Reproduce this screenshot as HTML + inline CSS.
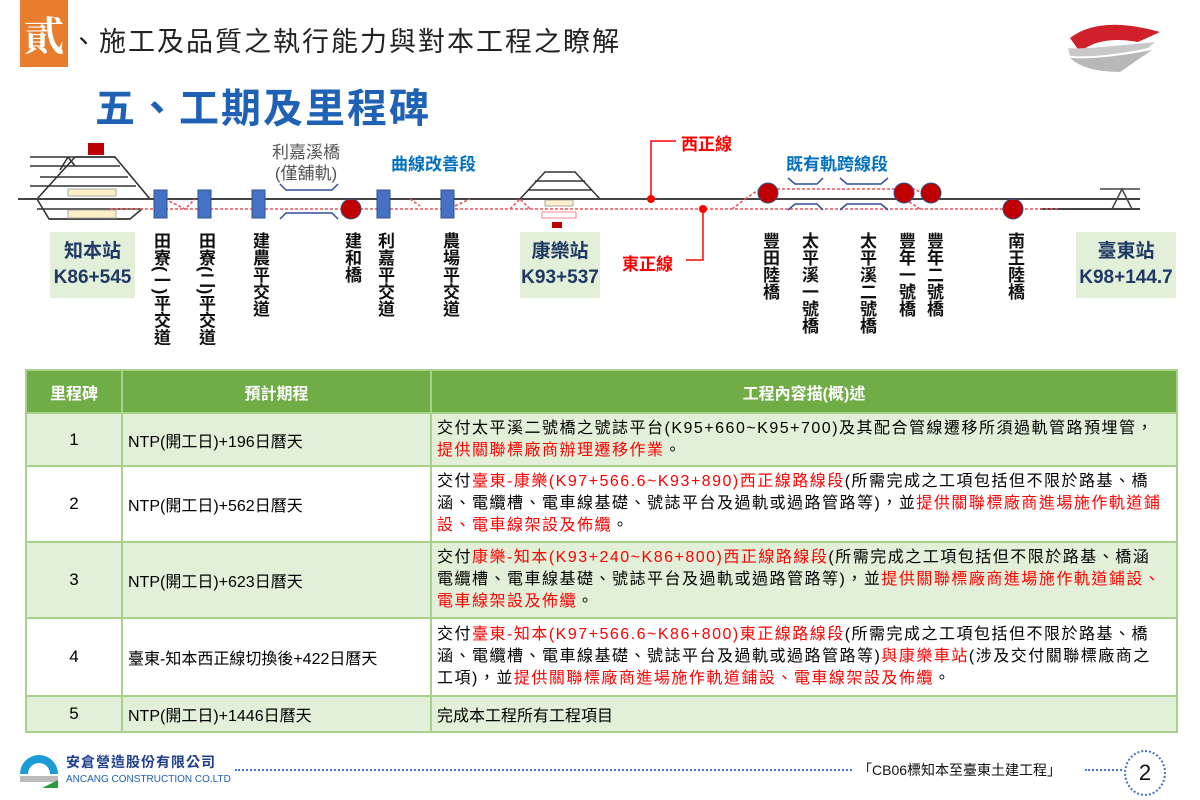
<!DOCTYPE html>
<html><head><meta charset="utf-8">
<style>
body{margin:0;width:1200px;height:800px;background:#fff;position:relative;overflow:hidden;font-family:"Liberation Sans","Noto Sans CJK TC",sans-serif;}
.abs{position:absolute;}
.vt{position:absolute;writing-mode:vertical-rl;font-size:17px;font-weight:bold;color:#111;line-height:17px;letter-spacing:0;}
.st{position:absolute;background:#e2efd9;color:#1f3864;font-weight:bold;text-align:center;font-size:19px;line-height:26px;padding-top:7px;}
table{position:absolute;left:25px;top:369px;width:1153px;border-collapse:collapse;font-size:16px;}
td,th{border:2px solid #a9d18e;padding:0 5px;}
th{background:#70ad47;color:#fff;font-weight:bold;height:41px;font-size:16px;}
.g td{background:#e2efd9;}
.w td{background:#fff;}
td.c{text-align:center;font-size:17px;}
td.d{letter-spacing:1.5px;}
.r{color:#ff0000;}
td div{white-space:nowrap;line-height:22px;}
</style></head><body>
<!-- header -->
<div class="abs" style="left:20px;top:0;width:48px;height:67px;background:#e87d2e;color:#fff;font-size:40px;font-family:'Noto Serif CJK SC',serif;line-height:67px;text-align:center;font-weight:bold;">貳</div>
<div class="abs" style="left:70px;top:20px;font-size:27px;color:#222;letter-spacing:2px;">、施工及品質之執行能力與對本工程之瞭解</div>
<div class="abs" style="left:95px;top:76px;font-size:40px;color:#1f62b5;font-weight:bold;letter-spacing:2px;">五、工期及里程碑</div>
<svg class="abs" style="left:1060px;top:10px" width="120" height="70">
<path d="M10 28 Q40 5 100 22 L78 32 Q40 25 20 42 Z" fill="#d0202a"/>
<path d="M8 38 Q20 40 95 32 L88 38 Q40 48 10 46 Z" fill="#c8c8c8"/>
<path d="M10 48 Q40 50 92 40 L60 62 Q25 62 10 48 Z" fill="#b8b8b8"/>
</svg>

<!-- diagram -->
<svg class="abs" style="left:0;top:0" width="1200" height="370">
<g stroke="#333" stroke-width="1.6" fill="none">
<line x1="30" y1="157" x2="115" y2="157"/><line x1="30" y1="166" x2="120" y2="166"/>
<line x1="40" y1="177" x2="128" y2="177"/><line x1="30" y1="186" x2="136" y2="186"/>
<line x1="37" y1="209" x2="142" y2="209"/><line x1="49" y1="219" x2="130" y2="219"/>
<polyline points="37,199 75,157 115,157 150,199"/>
<polyline points="37,199 49,219 130,219 142,209"/>
<line x1="68" y1="157" x2="60" y2="170"/><line x1="68" y1="157" x2="75" y2="166"/>
</g>
<rect x="68" y="189" width="48" height="7" fill="#fbefc8" stroke="#aaa"/>
<rect x="68" y="210" width="48" height="8" fill="#fbefc8" stroke="#aaa"/>
<rect x="88" y="143" width="16" height="12" fill="#c00000"/>
<g stroke="#333" stroke-width="1.5" fill="none">
<polyline points="520,199 545,172 575,172 600,199"/>
<line x1="535" y1="181" x2="585" y2="181"/>
<line x1="528" y1="190" x2="592" y2="190"/>
</g>
<rect x="545" y="200" width="28" height="6" fill="#fbefc8" stroke="#aaa"/>
<rect x="542" y="212" width="34" height="6" fill="none" stroke="#e88"/>
<rect x="552" y="222" width="10" height="6" fill="#c00000"/>
<line x1="18" y1="199" x2="1140" y2="199" stroke="#444" stroke-width="2"/>
<line x1="1040" y1="209" x2="1140" y2="209" stroke="#444" stroke-width="2"/>
<line x1="1100" y1="189" x2="1140" y2="189" stroke="#444" stroke-width="1.5"/>
<polyline points="1112,209 1122,189 1132,209" stroke="#444" fill="none" stroke-width="1.5"/>
<g stroke="#e8545c" stroke-width="1.6" stroke-dasharray="3,2" fill="none">
<line x1="110" y1="209" x2="1060" y2="209"/>
<polyline points="745,199 760,189 915,189 930,199"/>
<polyline points="732,209 745,199"/>
<polyline points="905,199 920,209"/>
<polyline points="165,199 185,209 195,199"/>
<polyline points="410,199 420,206"/><polyline points="455,206 470,199"/>
<polyline points="510,209 520,199 530,209"/>
</g>
<g fill="#4472c4" stroke="#2f528f">
<rect x="154" y="190" width="13" height="28"/><rect x="198" y="190" width="13" height="28"/>
<rect x="252" y="190" width="13" height="28"/><rect x="377" y="190" width="13" height="28"/>
<rect x="441" y="190" width="13" height="28"/>
</g>
<g stroke="#2f4e9c" stroke-width="1.5" fill="none">
<polyline points="280,184 286,190 332,190 338,184"/><polyline points="280,219 286,213 332,213 338,219"/>
<polyline points="788,178 795,184 817,184 823,178"/><polyline points="788,210 795,204 817,204 823,210"/>
<polyline points="840,178 847,184 881,184 888,178"/><polyline points="840,210 847,204 881,204 888,210"/>
</g>
<g fill="#c00000" stroke="#2f528f" stroke-width="1">
<circle cx="351" cy="209" r="10"/>
<circle cx="768" cy="193" r="10"/><circle cx="904" cy="193" r="10"/><circle cx="931" cy="193" r="10"/>
<circle cx="1013" cy="209" r="10"/>
</g>
<g stroke="#ff0000" stroke-width="1.5" fill="none">
<polyline points="651,199 651,141 676,141"/>
<polyline points="703,209 703,260 686,260"/>
</g>
<circle cx="651" cy="199" r="4" fill="#ff0000"/><circle cx="703" cy="209" r="4" fill="#ff0000"/>
</svg>
<div class="abs" style="left:681px;top:130px;color:#ff0000;font-weight:bold;font-size:17px;">西正線</div>
<div class="abs" style="left:622px;top:250px;color:#ff0000;font-weight:bold;font-size:17px;">東正線</div>
<div class="abs" style="left:391px;top:150px;color:#0070c0;font-weight:bold;font-size:17px;">曲線改善段</div>
<div class="abs" style="left:786px;top:150px;color:#0070c0;font-weight:bold;font-size:17px;">既有軌跨線段</div>
<div class="abs" style="left:272px;top:142px;color:#555;font-size:17px;text-align:center;line-height:21px;">利嘉溪橋<br>(僅舖軌)</div>

<div class="st" style="left:50px;top:232px;width:85px;height:59px;">知本站<br>K86+545</div>
<div class="st" style="left:520px;top:232px;width:80px;height:59px;">康樂站<br>K93+537</div>
<div class="st" style="left:1076px;top:232px;width:100px;height:59px;">臺東站<br>K98+144.7</div>

<div class="vt" style="left:152px;top:232px;">田寮(一)平交道</div>
<div class="vt" style="left:197px;top:232px;">田寮(二)平交道</div>
<div class="vt" style="left:251px;top:232px;">建農平交道</div>
<div class="vt" style="left:343px;top:232px;">建和橋</div>
<div class="vt" style="left:376px;top:232px;">利嘉平交道</div>
<div class="vt" style="left:441px;top:232px;">農場平交道</div>
<div class="vt" style="left:761px;top:232px;">豐田陸橋</div>
<div class="vt" style="left:800px;top:232px;">太平溪一號橋</div>
<div class="vt" style="left:858px;top:232px;">太平溪二號橋</div>
<div class="vt" style="left:897px;top:232px;">豐年一號橋</div>
<div class="vt" style="left:925px;top:232px;">豐年二號橋</div>
<div class="vt" style="left:1006px;top:232px;">南王陸橋</div>

<table>
<tr><th style="width:84px">里程碑</th><th style="width:297px">預計期程</th><th>工程內容描(概)述</th></tr>
<tr class="g" style="height:53px"><td class="c">1</td><td>NTP(開工日)+196日曆天</td><td class="d"><div>交付太平溪二號橋之號誌平台(K95+660~K95+700)及其配合管線遷移所須過軌管路預埋管，</div><div><span class="r">提供關聯標廠商辦理遷移作業</span>。</div></td></tr>
<tr class="w" style="height:76px"><td class="c">2</td><td>NTP(開工日)+562日曆天</td><td class="d"><div>交付<span class="r">臺東-康樂(K97+566.6~K93+890)西正線路線段</span>(所需完成之工項包括但不限於路基、橋</div><div>涵、電纜槽、電車線基礎、號誌平台及過軌或過路管路等)，並<span class="r">提供關聯標廠商進場施作軌道鋪</span></div><div><span class="r">設、電車線架設及佈纜</span>。</div></td></tr>
<tr class="g" style="height:76px"><td class="c">3</td><td>NTP(開工日)+623日曆天</td><td class="d"><div>交付<span class="r">康樂-知本(K93+240~K86+800)西正線路線段</span>(所需完成之工項包括但不限於路基、橋涵</div><div>電纜槽、電車線基礎、號誌平台及過軌或過路管路等)，並<span class="r">提供關聯標廠商進場施作軌道鋪設、</span></div><div><span class="r">電車線架設及佈纜</span>。</div></td></tr>
<tr class="w" style="height:78px"><td class="c">4</td><td>臺東-知本西正線切換後+422日曆天</td><td class="d"><div>交付<span class="r">臺東-知本(K97+566.6~K86+800)東正線路線段</span>(所需完成之工項包括但不限於路基、橋</div><div>涵、電纜槽、電車線基礎、號誌平台及過軌或過路管路等)<span class="r">與康樂車站</span>(涉及交付關聯標廠商之</div><div>工項)，並<span class="r">提供關聯標廠商進場施作軌道鋪設、電車線架設及佈纜</span>。</div></td></tr>
<tr class="g" style="height:36px"><td class="c">5</td><td>NTP(開工日)+1446日曆天</td><td>完成本工程所有工程項目</td></tr>
</table>

<svg class="abs" style="left:18px;top:752px" width="42" height="36">
<path d="M2 22 A19 19 0 0 1 40 22 L32 22 A11 11 0 0 0 10 22 Z" fill="#1e9bd7"/>
<rect x="2" y="24" width="38" height="6" fill="#bbb"/>
<path d="M24 36 L40 28 L40 36 Z" fill="#2a9a3a"/>
</svg>
<div class="abs" style="left:66px;top:752px;font-size:14px;color:#1f3f8f;font-weight:bold;letter-spacing:1px;">安倉營造股份有限公司</div>
<div class="abs" style="left:66px;top:774px;font-size:10px;color:#1f5fb0;">ANCANG CONSTRUCTION CO.LTD</div>
<div class="abs" style="left:235px;top:769px;width:617px;border-top:2px dotted #4472c4;"></div>
<div class="abs" style="left:858px;top:760px;font-size:14px;color:#111;">「CB06標知本至臺東土建工程」</div>
<div class="abs" style="left:1085px;top:769px;width:37px;border-top:2px dotted #4472c4;"></div>
<div class="abs" style="left:1124px;top:750px;width:38px;height:42px;border:2px dotted #4472c4;border-radius:50%;text-align:center;line-height:42px;font-size:22px;color:#111;">2</div>
</body></html>
